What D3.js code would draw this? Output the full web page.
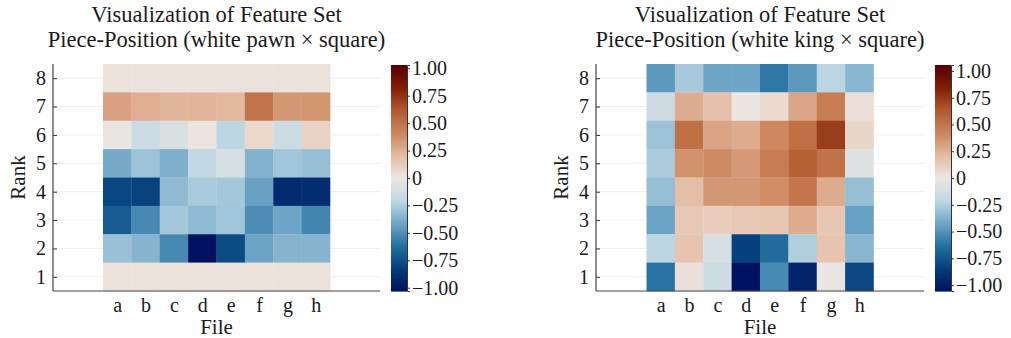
<!DOCTYPE html>
<html>
<head>
<meta charset="utf-8">
<script src="https://cdn.jsdelivr.net/npm/d3@7"></script>
<style>
  body { margin: 0; background: #fff; }
  text { font-family: "Liberation Serif", "DejaVu Serif", serif; fill: #1a1a1a; }
</style>
</head>
<body>
<script>
// files and ranks of the board
const files = ["a", "b", "c", "d", "e", "f", "g", "h"]
const ranks = [8, 7, 6, 5, 4, 3, 2, 1]

// weights, one row per rank (8 at the top), a..h
const pawnValues = [
  [0.02, 0.02, 0.02, 0.02, 0.02, 0.02, 0.02, 0.02],
  [0.31, 0.26, 0.23, 0.24, 0.22, 0.50, 0.35, 0.36],
  [-0.02, -0.15, -0.08, 0.01, -0.21, 0.07, -0.15, 0.10],
  [-0.39, -0.29, -0.37, -0.19, -0.10, -0.36, -0.28, -0.31],
  [-0.79, -0.81, -0.32, -0.26, -0.27, -0.43, -0.91, -0.90],
  [-0.70, -0.52, -0.27, -0.33, -0.28, -0.50, -0.41, -0.53],
  [-0.30, -0.35, -0.52, -1.03, -0.77, -0.42, -0.35, -0.35],
  [0.02, 0.02, 0.02, 0.02, 0.02, 0.02, 0.02, 0.02]
]

const kingValues = [
  [-0.47, -0.27, -0.42, -0.42, -0.60, -0.47, -0.22, -0.35],
  [-0.14, 0.27, 0.19, 0.00, 0.06, 0.30, 0.47, 0.04],
  [-0.30, 0.53, 0.31, 0.28, 0.42, 0.53, 0.74, 0.08],
  [-0.26, 0.38, 0.41, 0.35, 0.47, 0.60, 0.52, -0.07],
  [-0.32, 0.20, 0.36, 0.36, 0.40, 0.50, 0.28, -0.32],
  [-0.43, 0.15, 0.13, 0.15, 0.16, 0.27, 0.16, -0.44],
  [-0.22, 0.17, -0.10, -0.83, -0.65, -0.25, 0.17, -0.35],
  [-0.62, 0.03, -0.14, -1.055, -0.53, -0.98, -0.01, -0.80]
]

const colorbarTicks = [1, 0.75, 0.5, 0.25, 0, -0.25, -0.5, -0.75, -1]

// approximation of the "vik" diverging map, low to high
const vikStops = ["#011261", "#053e7b", "#2370a0", "#6ea5c6", "#bed7e3", "#ece6e2",
                  "#e5bca4", "#cd875f", "#b25a2d", "#82200a", "#590008"]
const vik = d3.piecewise(d3.interpolateRgb, vikStops)

const W = 1011, H = 338
const svg = d3.select("body").append("svg")
  .attr("width", W).attr("height", H)

svg.append("rect").attr("width", W).attr("height", H).attr("fill", "#fff")

function fmtTick(v){
  if(v === 0) return "0"
  return (v < 0 ? "\u2212" : "") + Math.abs(v).toFixed(2)
}

function drawPanel(opts){
  const g = svg.append("g")
  const top = 64, bottom = 291
  const left = opts.left, right = opts.right

  // equal aspect: one unit in x is as wide as one unit in y
  const unit = (bottom - top) / 8
  const cx = 4.5, half = (right - left) / 2 / unit

  const x = d3.scaleLinear().domain([cx - half, cx + half]).range([left, right])
  const y = d3.scaleLinear().domain([0.5, 8.5]).range([bottom, top])

  const lim = d3.max(opts.values.flat(), d => Math.abs(d))
  const color = d3.scaleSequential(vik).domain([-lim, lim])

  // grid lines behind the heatmap
  g.append("g").selectAll("line").data(ranks).join("line")
    .attr("x1", left).attr("x2", right)
    .attr("y1", d => y(d)).attr("y2", d => y(d))
    .attr("stroke", "#eeeeee").attr("stroke-width", 1)

  // cells
  const cells = []
  opts.values.forEach((row, i) => row.forEach((v, j) => {
    cells.push({file: j + 1, rank: ranks[i], v: v})
  }))

  g.append("g").selectAll("rect").data(cells).join("rect")
    .attr("x", d => x(d.file - 0.5))
    .attr("y", d => y(d.rank + 0.5))
    .attr("width", d => x(d.file + 0.5) - x(d.file - 0.5) + 0.3)
    .attr("height", d => y(d.rank - 0.5) - y(d.rank + 0.5) + 0.3)
    .attr("fill", d => color(d.v))

  // y axis
  const yAxis = g.append("g")
    .attr("transform", `translate(${left},0)`)
    .call(d3.axisLeft(y).tickValues(ranks).tickSize(-4).tickPadding(7))
  yAxis.select(".domain").remove()
  yAxis.selectAll(".tick line").attr("stroke", "#333")
  yAxis.selectAll(".tick text").attr("font-size", 20).attr("fill", "#1a1a1a")

  // x axis
  const xAxis = g.append("g")
    .attr("transform", `translate(0,${bottom})`)
    .call(d3.axisBottom(x).tickValues(d3.range(1, 9)).tickSize(0).tickPadding(7)
      .tickFormat(d => files[d - 1]))
  xAxis.select(".domain").remove()
  xAxis.selectAll(".tick text").attr("font-size", 20).attr("fill", "#1a1a1a")

  // axis lines
  g.append("line").attr("x1", left).attr("x2", left).attr("y1", top).attr("y2", bottom)
    .attr("stroke", "#444").attr("stroke-width", 1.2)
  g.append("line").attr("x1", left).attr("x2", right).attr("y1", bottom).attr("y2", bottom)
    .attr("stroke", "#444").attr("stroke-width", 1.2)

  // labels
  g.append("text")
    .attr("x", (left + right) / 2).attr("y", 334)
    .attr("text-anchor", "middle").attr("font-size", 21)
    .text("File")
  g.append("text")
    .attr("transform", `translate(${left - 28},${(top + bottom) / 2}) rotate(-90)`)
    .attr("text-anchor", "middle").attr("font-size", 21)
    .text("Rank")

  // title, two lines
  const title = g.append("text").attr("text-anchor", "middle").attr("font-size", 22.5)
  title.append("tspan").attr("x", (left + right) / 2).attr("y", 22)
    .text("Visualization of Feature Set")
  title.append("tspan").attr("x", (left + right) / 2).attr("y", 47)
    .text(opts.subtitle)

  // colorbar
  const cbX = right + 11, cbW = 16
  const cy = d3.scaleLinear().domain([-lim, lim]).range([bottom, top + 1])
  const steps = d3.range(0, 226)
  g.append("g").selectAll("rect").data(steps).join("rect")
    .attr("x", cbX).attr("width", cbW)
    .attr("y", d => cy(-lim + (d + 1) * 2 * lim / steps.length))
    .attr("height", (bottom - top) / steps.length + 0.6)
    .attr("fill", d => color(-lim + (d + 0.5) * 2 * lim / steps.length))

  const cAxis = g.append("g")
    .attr("transform", `translate(${cbX + cbW},0)`)
    .call(d3.axisRight(cy).tickValues(colorbarTicks).tickSize(3).tickPadding(2)
      .tickFormat(fmtTick))
  cAxis.select(".domain").attr("stroke", "#333")
  cAxis.selectAll(".tick line").attr("stroke", "#333")
  cAxis.selectAll(".tick text").attr("font-size", 20).attr("fill", "#1a1a1a")
}

drawPanel({left: 53, right: 380, values: pawnValues,
  subtitle: "Piece-Position (white pawn \u00d7 square)"})
drawPanel({left: 596, right: 924, values: kingValues,
  subtitle: "Piece-Position (white king \u00d7 square)"})
</script>
</body>
</html>
